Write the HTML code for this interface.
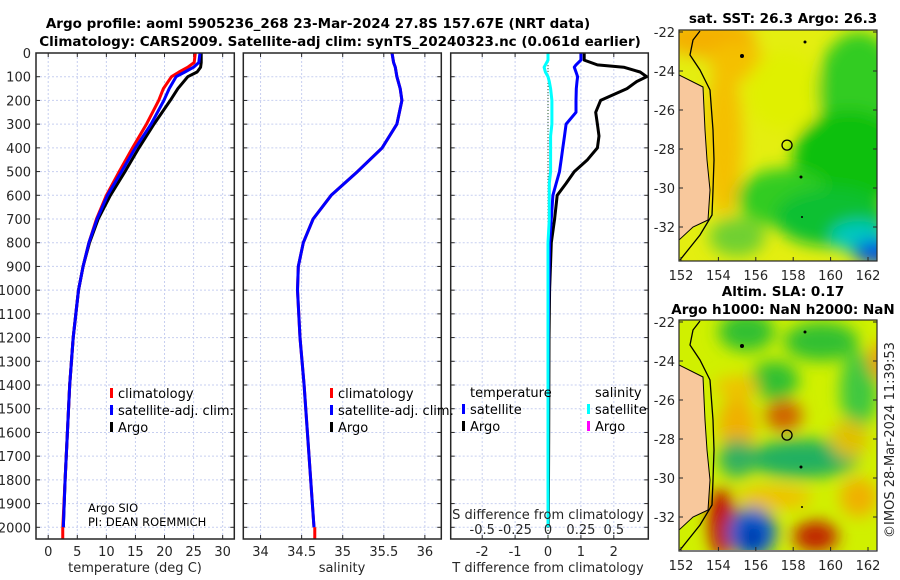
<!DOCTYPE html>
<html><head><meta charset="utf-8">
<style>
html,body{margin:0;padding:0;background:#fff;}
svg{display:block;font-family:"DejaVu Sans","Liberation Sans",sans-serif;}
.tk{font-size:13px;fill:#262626;}
.ttl{font-size:13.5px;font-weight:bold;fill:#000;}
.lg{font-size:13px;fill:#000;}
</style></head>
<body>
<svg id="fig" width="900" height="580" viewBox="0 0 900 580" xmlns="http://www.w3.org/2000/svg">
<defs>
<filter id="bl" x="-50%" y="-50%" width="200%" height="200%"><feGaussianBlur stdDeviation="8"/></filter>
<clipPath id="c1"><rect x="679" y="30" width="198" height="231"/></clipPath>
<clipPath id="c2"><rect x="679" y="320" width="198" height="230"/></clipPath>
</defs>
<text class="ttl" x="318" y="28" text-anchor="middle">Argo profile: aoml 5905236_268 23-Mar-2024 27.8S 157.67E (NRT data)</text>
<text class="ttl" x="340" y="46" text-anchor="middle">Climatology: CARS2009. Satellite-adj clim: synTS_20240323.nc (0.061d earlier)</text>
<g id="plots"></g>
<g id="maps"></g>
<text class="tk" transform="translate(894,440) rotate(-90)" text-anchor="middle">©IMOS 28-Mar-2024 11:39:53</text>
</svg>
<script>
// ---- data ----
const depths = [0,40,60,80,100,150,200,300,400,500,600,700,800,900,1000,1200,1400,1600,1800,2000];
const tempClim = [25.3,25.1,24.0,22.5,21.2,19.8,19.0,16.9,14.5,12.2,10.0,8.3,7.0,6.0,5.2,4.3,3.7,3.3,2.9,2.5];
const tempSat  = [26.1,25.9,25.0,23.5,22.0,20.8,19.9,17.7,15.0,12.6,10.2,8.4,7.0,6.0,5.2,4.3,3.7,3.3,2.9,2.6];
const tempArgo = [26.3,26.3,26.2,25.6,24.0,22.3,21.0,18.2,15.6,13.2,10.7,8.6,7.1,6.0,5.2,4.3,3.7,3.3,2.9,2.6];
const salClim = [35.60,35.62,35.64,35.65,35.66,35.70,35.72,35.66,35.48,35.18,34.86,34.64,34.52,34.46,34.45,34.48,34.53,34.57,34.61,34.65];
const salSat  = [35.60,35.62,35.64,35.65,35.66,35.70,35.72,35.66,35.48,35.18,34.86,34.64,34.52,34.46,34.45,34.48,34.53,34.57,34.61,34.65];
const diffDepths = [0,30,50,60,80,100,120,150,200,250,300,350,400,450,500,550,600,700,800,1000,1200,1600,2000];
const tDiffArgo = [1.1,1.1,1.5,2.3,2.8,3.0,2.7,2.4,1.6,1.45,1.5,1.55,1.5,1.2,0.8,0.55,0.28,0.2,0.1,0.05,0.03,0.02,0.01];
const tDiffSat  = [1.0,1.0,0.85,0.8,0.85,0.9,0.88,0.86,0.85,0.85,0.55,0.5,0.45,0.4,0.35,0.25,0.15,0.1,0.05,0.02,0.01,0.0,0.0];
const sDiffSat  = [0.0,0.0,-0.02,-0.03,-0.02,0.0,0.01,0.02,0.03,0.03,0.03,0.02,0.02,0.02,0.02,0.01,0.01,0.01,0.0,0.0,0.0,0.0,0.0];
const depthTicks = [0,100,200,300,400,500,600,700,800,900,1000,1100,1200,1300,1400,1500,1600,1700,1800,1900,2000];
const tempTicks = [0,5,10,15,20,25,30];
const salTicks = [34,34.5,35,35.5,36];
const tDiffTicks = [-2,-1,0,1,2];
const sDiffTicks = [-0.5,-0.25,0,0.25,0.5];
const lonTicks = [152,154,156,158,160,162];
const latTicks = [-22,-24,-26,-28,-30,-32];

const NS='http://www.w3.org/2000/svg';
function mk(tag, attrs, parent, text){
  const e=document.createElementNS(NS,tag);
  for(const k in attrs) e.setAttribute(k,attrs[k]);
  if(text!==undefined) e.textContent=text;
  parent.appendChild(e); return e;
}
const plots=document.getElementById('plots');
const plotTop=53, plotBot=539;
function y(d){ return plotTop + d*(527.3-53)/2000; }

function panel(name,x0,x1,vmin,vmax){
  const g=mk('g',{},plots);
  
  
  return {g, x:v=>x0+(v-vmin)/(vmax-vmin)*(x1-x0), x0, x1};
}
const P1=panel('temperature-panel',36,234.3,-2.1,32.0);
const P2=panel('salinity-panel',243.3,441.3,33.79,36.2);
const P3=panel('difference-panel',450.7,648.3,-3,3);
const t3=v=>548+v*32.9, s3=v=>548+v*131.6;

function grid(P, xs, fx, labels, showY){
  const g=P.g;
  xs.forEach(v=>{
    const gl=mk('line',{x1:fx(v),x2:fx(v),y1:plotTop,y2:plotBot,stroke:'#c7cff0','stroke-dasharray':'2,2','stroke-width':1},g);
    
    
  });
  depthTicks.forEach(d=>{
    const gl=mk('line',{x1:P.x0,x2:P.x1,y1:y(d),y2:y(d),stroke:'#c7cff0','stroke-dasharray':'2,2','stroke-width':1},g);
    
    
    mk('line',{x1:P.x0,x2:P.x0+4,y1:y(d),y2:y(d),stroke:'#262626'},g);
    mk('line',{x1:P.x1-4,x2:P.x1,y1:y(d),y2:y(d),stroke:'#262626'},g);
    if(showY){
      const t=mk('text',{x:P.x0-5,y:y(d)+5,'text-anchor':'end',class:'tk'},g,String(d));
      
      
    }
  });
  if(labels){
    xs.forEach((v,i)=>{
      mk('line',{x1:fx(v),x2:fx(v),y1:plotBot,y2:plotBot-4,stroke:'#262626'},g);
      mk('line',{x1:fx(v),x2:fx(v),y1:plotTop,y2:plotTop+4,stroke:'#262626'},g);
      const t=mk('text',{x:fx(v),y:556,'text-anchor':'middle',class:'tk'},g,labels[i]);
      
      
    });
  }
}
function frame(P){
  const r=mk('rect',{x:P.x0,y:plotTop,width:P.x1-P.x0,height:plotBot-plotTop,fill:'none',stroke:'#262626','stroke-width':1.5},P.g);
  
  
}
function line(P, ds, vals, fx, color, name, w){
  const pts=ds.map((d,i)=>fx(vals[i]).toFixed(1)+','+y(d).toFixed(1)).join(' ');
  const l=mk('polyline',{points:pts,fill:'none',stroke:color,'stroke-width':w||3,'stroke-linejoin':'round'},P.g);
  
  
}
function legItem(g,x,yy,color,txt,name){
  mk('rect',{x:x,y:yy-10,width:3,height:10,fill:color},g);
  const t=mk('text',{x:x+8,y:yy,class:'lg'},g,txt);
  
  
}

// Panel 1
grid(P1,tempTicks,P1.x,tempTicks.map(String),true);
line(P1,depths,tempArgo,P1.x,'#000','argo-temperature-line');
line(P1,depths,tempClim,P1.x,'#f00','climatology-temperature-line');
line(P1,depths,tempSat,P1.x,'#00f','satellite-temperature-line');
mk('line',{x1:P1.x(2.5),x2:P1.x(2.5),y1:y(2000),y2:plotBot,stroke:'#f00','stroke-width':3},P1.g);
frame(P1);
{const t=mk('text',{x:135,y:572,'text-anchor':'middle',class:'tk'},P1.g,'temperature (deg C)');
}
legItem(P1.g,110,398,'#f00','climatology','legend-climatology');
legItem(P1.g,110,415,'#00f','satellite-adj. clim.','legend-satellite');
legItem(P1.g,110,432,'#000','Argo','legend-argo');
{const t=mk('text',{x:88,y:512,style:'font-size:11.5px',fill:'#000'},P1.g,'Argo SIO');

const t2=mk('text',{x:88,y:526,style:'font-size:11.5px',fill:'#000'},P1.g,'PI: DEAN ROEMMICH');
}

// Panel 2
grid(P2,salTicks,P2.x,['34','34.5','35','35.5','36'],false);
line(P2,depths,salClim,P2.x,'#f00','climatology-salinity-line');
line(P2,depths,salSat,P2.x,'#00f','satellite-salinity-line');
mk('line',{x1:P2.x(34.66),x2:P2.x(34.66),y1:y(2000),y2:plotBot,stroke:'#f00','stroke-width':3},P2.g);
frame(P2);
{const t=mk('text',{x:342,y:572,'text-anchor':'middle',class:'tk'},P2.g,'salinity');
}
legItem(P2.g,330,398,'#f00','climatology','legend-climatology');
legItem(P2.g,330,415,'#00f','satellite-adj. clim.','legend-satellite');
legItem(P2.g,330,432,'#000','Argo','legend-argo');

// Panel 3
grid(P3,tDiffTicks,t3,tDiffTicks.map(String),false);
mk('line',{x1:548,x2:548,y1:plotTop,y2:plotBot,stroke:'#2a5a2a','stroke-dasharray':'1,2','stroke-width':1},P3.g);
line(P3,diffDepths,tDiffArgo,t3,'#000','argo-temperature-difference-line');
line(P3,diffDepths,tDiffSat,t3,'#00f','satellite-temperature-difference-line');
line(P3,diffDepths,sDiffSat,s3,'#00ffff','satellite-salinity-difference-line');
frame(P3);
sDiffTicks.forEach((v,i)=>{
  const t=mk('text',{x:s3(v),y:534,'text-anchor':'middle',class:'tk'},P3.g,['-0.5','-0.25','0','0.25','0.5'][i]);
  
});
{const t=mk('text',{x:548,y:519,'text-anchor':'middle',class:'tk'},P3.g,'S difference from climatology');

const t2=mk('text',{x:548,y:572,'text-anchor':'middle',class:'tk'},P3.g,'T difference from climatology');

const t3l=mk('text',{x:470,y:397,class:'lg'},P3.g,'temperature');

const t4=mk('text',{x:595,y:397,class:'lg'},P3.g,'salinity');
}
legItem(P3.g,462,414,'#00f','satellite','legend-t-satellite');
legItem(P3.g,462,431,'#000','Argo','legend-t-argo');
legItem(P3.g,587,414,'#00ffff','satellite','legend-s-satellite');
legItem(P3.g,587,431,'#ff00ff','Argo','legend-s-argo');

// ---- maps ----
const maps=document.getElementById('maps');
function lonX(l){return 681+(l-152)*18.7;}
function latY(l,off){return off+32+(-22-l)*19.5;}
function map(name,off,clip,base,blobs,titles){
  const g=mk('g',{},maps);
  
  
  const bg=mk('g',{'clip-path':'url(#'+clip+')'},g);
  mk('rect',{x:679,y:off+30,width:198,height:231,fill:base},bg);
  const bb=mk('g',{filter:'url(#bl)'},bg);
  blobs.forEach(b=>{
    mk('ellipse',{cx:lonX(b[0]),cy:latY(b[1],off),rx:b[2]*18.7,ry:b[3]*19.5,fill:b[4]},bb);
  });
  const land=[[679,75],[703,87],[705,130],[707,160],[710,190],[708,220],[693,227],[679,240]];
  const lp=mk('polygon',{points:land.map(p=>p[0]+','+(p[1]+off)).join(' '),fill:'#f8c89c',stroke:'#000','stroke-width':1},bg);
  
  const ct=[[700,31],[693,40],[690,55],[700,70],[710,90],[713,130],[714,160],[713,190],[712,215],[700,235],[688,250],[680,260]];
  mk('polyline',{points:ct.map(p=>p[0]+','+(p[1]+off)).join(' '),fill:'none',stroke:'#000','stroke-width':1.3},bg);
  [[742,56,2],[805,42,1.5],[801,177,1.5],[802,217,1]].forEach(d=>mk('circle',{cx:d[0],cy:d[1]+off,r:d[2],fill:'#000'},bg));
  const c=mk('circle',{cx:lonX(157.67),cy:latY(-27.8,off),r:5,fill:'none',stroke:'#000','stroke-width':1.3},g);
  
  mk('rect',{x:679,y:off+30,width:198,height:231,fill:'none',stroke:'#262626','stroke-width':1.2},g);
  lonTicks.forEach(l=>{
    mk('line',{x1:lonX(l),x2:lonX(l),y1:off+261,y2:off+257,stroke:'#262626'},g);
    const t=mk('text',{x:lonX(l),y:off+280,'text-anchor':'middle',class:'tk'},g,String(l));
    
  });
  latTicks.forEach(l=>{
    mk('line',{x1:679,x2:683,y1:latY(l,off),y2:latY(l,off),stroke:'#262626'},g);
    mk('line',{x1:873,x2:877,y1:latY(l,off),y2:latY(l,off),stroke:'#262626'},g);
    const t=mk('text',{x:675,y:latY(l,off)+5,'text-anchor':'end',class:'tk'},g,String(l));
    
  });
  titles.forEach((tt,i)=>{
    const a=mk('text',{x:783,y:tt[1],'text-anchor':'middle',class:'ttl'},g,tt[0]);
    
  });
}
map('sst-map',0,'c1','#e4ee10',[
  [153.5,-22.3,2.5,1,'#f4b000'],[155,-23.5,1.5,1,'#f4c000'],[154.3,-27.5,1,4,'#f4c000'],
  [157.5,-25,2,2,'#e0f000'],[161.5,-25,2.2,3,'#30cc20'],[161,-28.5,3,2.5,'#10c010'],
  [157.5,-30.5,2.5,1.5,'#30cc20'],[160,-31.5,3,1.5,'#10c030'],[161.5,-32.5,1.5,0.8,'#00c8c0'],
  [162.5,-33.3,1.3,0.6,'#0050e0'],[155,-32.5,1.5,1,'#70d030']
],[['sat. SST: 26.3 Argo: 26.3',23]]);
map('sla-map',290,'c2','#d0f000',[
  [155.5,-22.5,1.5,1,'#30c030'],[159.5,-23,2,1,'#30c030'],[157,-25,1.3,1,'#30c030'],
  [161.5,-25.5,1,2,'#40c840'],[163,-24,1,1,'#f0a000'],[157.5,-26.8,1,0.8,'#d06000'],
  [155,-27.3,1,1.5,'#f0b000'],[158.5,-29,3,1,'#20b060'],[155,-29,1,1,'#30b060'],
  [154.2,-32.3,0.7,1.8,'#c00000'],[155.8,-32.8,1.3,1.3,'#1060d0'],[155.8,-33,0.5,0.6,'#0020a0'],
  [159.2,-33,1.2,0.8,'#c02000'],[161.5,-31,1,1,'#f0b000'],[161,-28,1,1,'#e0c000'],
  [157,-31,2,0.6,'#f0c000'],[155,-25.3,1.2,0.5,'#f0c000']
],[['Altim. SLA: 0.17',296],['Argo h1000: NaN h2000: NaN',314]]);
</script>
</body></html>
